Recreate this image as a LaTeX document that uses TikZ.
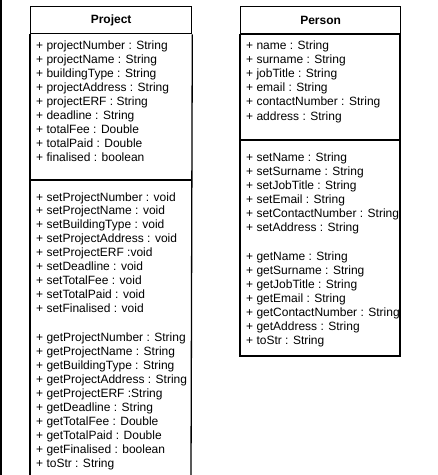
\documentclass[tikz,border=0pt]{standalone}
\usepackage{fontspec}
\setmainfont{Liberation Sans}
\tikzset{
  border/.style={line width=1.3pt},
  titlecell/.style={draw,border,anchor=north west,minimum height=27pt,inner sep=0pt,font=\fontsize{12}{14}\selectfont\bfseries},
  member/.style={anchor=base west,inner sep=0pt,font=\fontsize{12}{14}\selectfont}
}
\begin{document}
\begin{tikzpicture}[x=1pt,y=-1pt]
  \useasboundingbox (0,0) rectangle (438,475);
  \draw[border] (1,0) -- (1,475);
  % Project class
  \node[titlecell,minimum width=161pt] (project) at (30,6) {Project};
  \draw[border] (project.south west) -- (30,477);
  \draw[border] (project.south east) -- (191,477);
  \draw[border] (30,180) -- (191,180);
  \foreach \txt [count=\i] in {+ projectNumber : String,+ projectName : String,
      + buildingType : String,+ projectAddress : String,+ projectERF : String,
      + deadline : String,+ totalFee : Double,+ totalPaid : Double,+ finalised : boolean}
    \node[member] (pattr\i) at (36,{49+14*(\i-1)}) {\txt};
  \foreach \txt [count=\i] in {+ setProjectNumber : void,+ setProjectName : void,
      + setBuildingType : void,+ setProjectAddress : void,+ setProjectERF :void,
      + setDeadline : void,+ setTotalFee : void,+ setTotalPaid : void,+ setFinalised : void}
    \node[member] (pset\i) at (36,{201+13.9*(\i-1)}) {\txt};
  \foreach \txt [count=\i] in {+ getProjectNumber : String,+ getProjectName : String,
      + getBuildingType : String,+ getProjectAddress : String,+ getProjectERF :String,
      + getDeadline : String,+ getTotalFee : Double,+ getTotalPaid : Double,
      + getFinalised : boolean,+ toStr : String}
    \node[member] (pget\i) at (36,{341+14.1*(\i-1)}) {\txt};
  % Person class
  \node[titlecell,minimum width=160pt] (person) at (240,6) {Person};
  \draw[border] (person.south west) rectangle (400,356);
  \draw[border] (240,140) -- (400,140);
  \begin{scope}
    \clip (240,6) rectangle (399.3,356);
    \foreach \txt [count=\i] in {+ name : String,+ surname : String,+ jobTitle : String,
        + email : String,+ contactNumber : String,+ address : String}
      \node[member] (sattr\i) at (246,{49+14.2*(\i-1)}) {\txt};
    \foreach \txt [count=\i] in {+ setName : String,+ setSurname : String,
        + setJobTitle : String,+ setEmail : String,+ setContactNumber : String,
        + setAddress : String}
      \node[member] (sset\i) at (246,{161+14*(\i-1)}) {\txt};
    \foreach \txt [count=\i] in {+ getName : String,+ getSurname : String,
        + getJobTitle : String,+ getEmail : String,+ getContactNumber : String,
        + getAddress : String,+ toStr : String}
      \node[member] (sget\i) at (246,{260+14*(\i-1)}) {\txt};
  \end{scope}
\end{tikzpicture}
\end{document}
